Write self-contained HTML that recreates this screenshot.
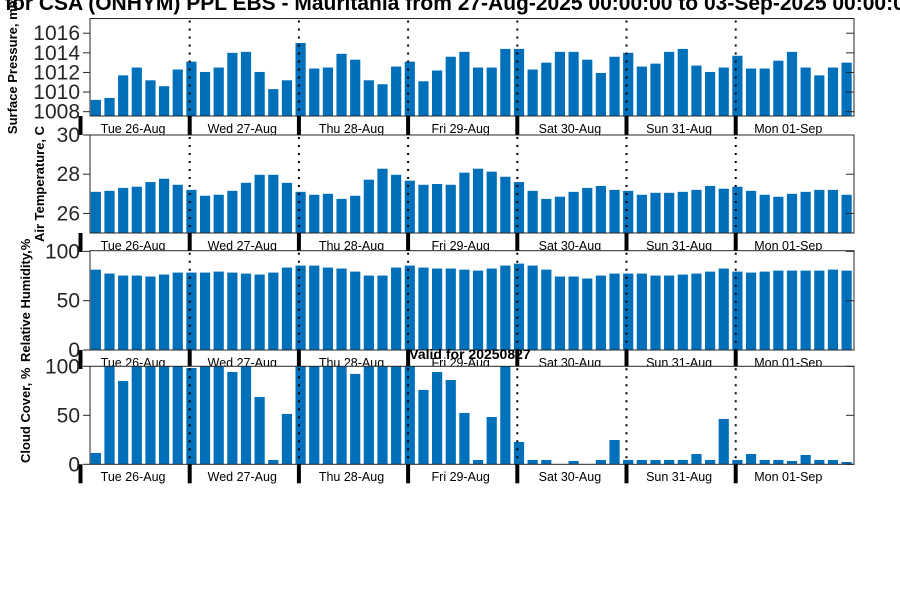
<!DOCTYPE html>
<html><head><meta charset="utf-8">
<style>
html,body{margin:0;padding:0;background:#fff;}
svg{display:block;font-family:"Liberation Sans","DejaVu Sans",sans-serif;}
</style></head>
<body>
<svg id="chart" width="900" height="600" viewBox="0 0 900 600">
<rect width="900" height="600" fill="#fff"/>
<text x="5" y="10" font-size="21" font-weight="bold" fill="#000">for CSA (ONHYM) PPL EBS  - Mauritania from 27-Aug-2025 00:00:00 to 03-Sep-2025 00:00:00</text>
<g id="panels"></g>
<text x="470" y="359" text-anchor="middle" font-size="14" font-weight="bold" fill="#000">Valid for 20250827</text>
</svg>
<script>
const dayLabels = ["Tue 26-Aug","Wed 27-Aug","Thu 28-Aug","Fri 29-Aug","Sat 30-Aug","Sun 31-Aug","Mon 01-Sep"];
const pressure = [1009.2,1009.4,1011.7,1012.5,1011.2,1010.6,1012.3,1013.1,1012.05,1012.5,1014.0,1014.1,1012.05,1010.3,1011.2,1015.0,1012.4,1012.5,1013.9,1013.3,1011.2,1010.8,1012.6,1013.1,1011.1,1012.2,1013.6,1014.1,1012.5,1012.5,1014.4,1014.4,1012.3,1013.0,1014.1,1014.1,1013.3,1011.95,1013.6,1014.0,1012.6,1012.9,1014.1,1014.4,1012.7,1012.05,1012.5,1013.7,1012.4,1012.4,1013.2,1014.1,1012.5,1011.7,1012.5,1013.0];
const temperature = [27.1,27.15,27.3,27.36,27.6,27.77,27.46,27.2,26.9,26.95,27.15,27.56,27.97,27.97,27.56,27.1,26.95,27.0,26.74,26.9,27.72,28.28,27.97,27.67,27.46,27.5,27.46,28.08,28.28,28.13,27.87,27.6,27.15,26.74,26.85,27.1,27.3,27.4,27.2,27.15,26.95,27.05,27.05,27.1,27.2,27.4,27.26,27.36,27.15,26.95,26.85,27.0,27.1,27.2,27.2,26.95];
const humidity = [81.5,77.5,75.5,75.5,74.5,76.5,78.5,78.5,78.5,79.5,78.5,77.5,76.5,78.5,83.6,85.6,85.6,83.6,82.6,79.5,75.5,75.5,83.6,85.6,83.6,82.6,82.6,81.5,80.5,82.6,85.6,87.6,85.6,81.5,74.5,74.5,72.5,75.5,77.5,77.5,77.5,75.5,75.5,76.5,77.5,79.5,82.6,79.5,78.5,79.5,80.5,80.5,80.5,80.5,81.5,80.5];
const cloud = [11.6,100,85,100,100,100,100,98.3,100,100,94.2,100,68.7,4.4,51.4,100,100,100,100,92.2,100,100,100,100,75.9,94.2,86,52.4,4.4,48.3,100,22.8,4.4,4.4,0,3.4,0,4.4,24.8,4.4,4.4,4.4,4.4,4.4,10.5,4.4,46.3,4.4,10.5,4.4,4.4,3.4,9.5,4.4,4.4,2.4];
const pressureTicks = [1008,1010,1012,1014,1016];
const tempTicks = [26,28,30];
const pctTicks = [0,50,100];

const NS = "http://www.w3.org/2000/svg";
const root = document.getElementById('panels');
const X0 = 90, X1 = 854;
const dayPx = 109.2, dayStartPx = 80.5; // pixel of start of Tue 26 -> 0h
function xHour(h){ return dayStartPx + h * dayPx / 24; }
function mk(tag, attrs, parent){
  const e = document.createElementNS(NS, tag);
  for (const k in attrs) e.setAttribute(k, attrs[k]);
  (parent || root).appendChild(e);
  return e;
}
const panels = [
  {name:'pressure', data:pressure, ticks:pressureTicks, lo:1007.56, hi:1017.5, top:18.5, bot:116, title:'Surface Pressure, mb', tx:17, lblY:133},
  {name:'temperature', data:temperature, ticks:tempTicks, lo:25, hi:30, top:135, bot:233, title:'Air Temperature, C', tx:44, lblY:250},
  {name:'humidity', data:humidity, ticks:pctTicks, lo:0, hi:100.7, top:250.7, bot:350, title:'Relative Humidity,%', tx:30, lblY:367},
  {name:'cloud-cover', data:cloud, ticks:pctTicks, lo:0, hi:100, top:366.3, bot:464.3, title:'Cloud Cover, %', tx:30, lblY:481}
];
panels.forEach(p => {
  const g = mk('g', {});
  
  
  const y = v => p.bot - (v - p.lo) / (p.hi - p.lo) * (p.bot - p.top);
  const bg = mk('rect', {x:X0, y:p.top, width:X1-X0, height:p.bot-p.top, fill:'#fff'}, g);
  
  
  p.data.forEach((v, i) => {
    const cx = xHour(3*i + 3);
    const vv = Math.min(v, p.hi);
    const yt = y(vv);
    const r = mk('rect', {x:(cx-3.4).toFixed(2), y:yt.toFixed(2), width:10.2, height:Math.max(0,p.bot-yt).toFixed(2), fill:'#0070BB'}, g);
    
    
  });
  for (let d = 1; d <= 6; d++) {
    const xd = xHour(24*d);
    const l = mk('line', {x1:xd, x2:xd, y1:p.top+2, y2:p.bot, stroke:'#000', 'stroke-width':2, 'stroke-dasharray':'2,6'}, g);
    
    
  }
  const fr = mk('rect', {x:X0, y:p.top, width:X1-X0, height:p.bot-p.top, fill:'none', stroke:'#262626', 'stroke-width':1}, g);
  
  
  p.ticks.forEach(t => {
    const ty = y(t);
    const tl = mk('line', {x1:X0-7, x2:X0, y1:ty, y2:ty, stroke:'#262626'}, g);
    
    
    const tr = mk('line', {x1:X1-8, x2:X1, y1:ty, y2:ty, stroke:'#262626'}, g);
    
    
    const tx = mk('text', {x:80, y:ty+7, 'text-anchor':'end', 'font-size':21, fill:'#262626'}, g);
    
    
    tx.textContent = String(t);
  });
  const yt = mk('text', {x:p.tx, y:(p.top+p.bot)/2, 'text-anchor':'middle', 'font-size':13, 'font-weight':'bold', fill:'#000', transform:`rotate(-90 ${p.tx} ${(p.top+p.bot)/2})`}, g);
  
  
  yt.textContent = p.title;
  dayLabels.forEach((lab, d) => {
    const cx = xHour(24*d + 12) - 2;
    const t = mk('text', {x:cx, y:p.lblY, 'text-anchor':'middle', 'font-size':12.5, fill:'#000'}, g);
    
    
    t.textContent = lab;
  });
  for (let d = 0; d <= 6; d++) {
    const xd = xHour(24*d);
    const tk = mk('line', {x1:xd, x2:xd, y1:p.bot, y2:p.bot+19, stroke:'#000', 'stroke-width':4}, g);
    
    
  }
});
</script>
</body></html>
